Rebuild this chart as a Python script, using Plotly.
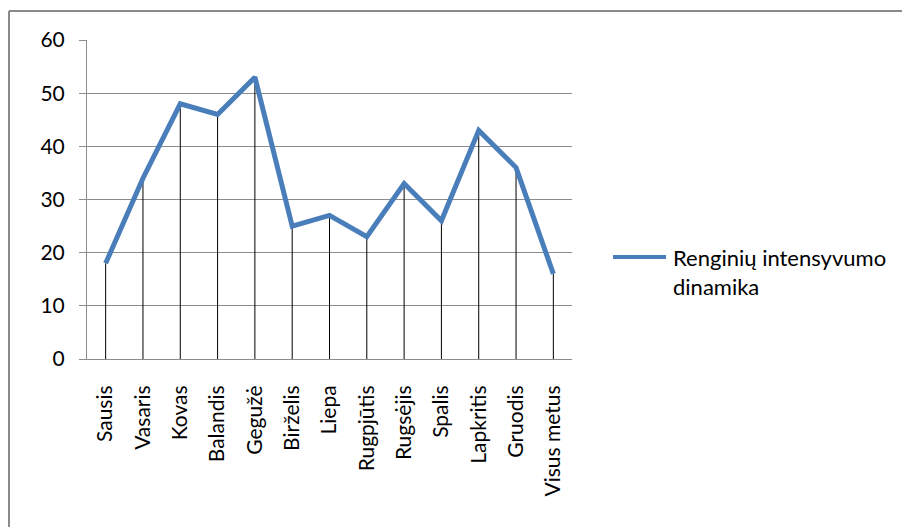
import plotly.graph_objects as go

# Monthly event intensity
months = ["Sausis", "Vasaris", "Kovas", "Balandis", "Gegužė", "Birželis", "Liepa",
          "Rugpjūtis", "Rugsėjis", "Spalis", "Lapkritis", "Gruodis", "Visus metus"]
values = [18, 34, 48, 46, 53, 25, 27, 23, 33, 26, 43, 36, 16]
y_ticks = [0, 10, 20, 30, 40, 50, 60]
series_name = "Renginių intensyvumo<br>dinamika"

W, H = 902, 527
ML, MR, MT, MB = 87, 330, 40, 168
PW, PH = W - ML - MR, H - MT - MB

def px_x(px):
    return (px - ML) / PW

def px_y(py):
    return (H - MB - py) / PH

FONT = "Lato"
FS = 21
GRID = "#8c8c8c"
BLUE = "#4A7EBB"

# vertical drop lines from each point down to zero
drop_x, drop_y = [], []
for m, v in zip(months, values):
    drop_x += [m, m, None]
    drop_y += [0, v, None]

fig = go.Figure()
fig.add_trace(go.Scatter(x=drop_x, y=drop_y, mode="lines",
                         line=dict(color="black", width=1),
                         showlegend=False, hoverinfo="skip"))
fig.add_trace(go.Scatter(x=months, y=values, mode="lines", name=series_name,
                         line=dict(color=BLUE, width=5), showlegend=False))

fig.update_layout(
    width=W, height=H,
    margin=dict(l=ML, r=MR, t=MT, b=MB, pad=0),
    paper_bgcolor="white", plot_bgcolor="white",
    font=dict(family=FONT, size=FS, color="black"),
    xaxis=dict(type="category", categoryorder="array", categoryarray=months,
               range=[-0.5, len(months) - 0.5],
               showgrid=False, showline=True, linecolor=GRID, linewidth=1,
               ticks="", tickangle=-90, ticklabelstandoff=17,
               tickfont=dict(family=FONT, size=FS)),
    yaxis=dict(range=[0, 60], tickvals=y_ticks, showgrid=True, gridcolor=GRID,
               gridwidth=1, showline=True, linecolor=GRID, linewidth=1,
               ticks="outside", ticklen=7, tickcolor=GRID, ticklabelstandoff=10,
               zeroline=False, tickfont=dict(family=FONT, size=FS)),
    shapes=[
        # outer chart frame (top and left edges)
        dict(type="line", xref="paper", yref="paper",
             x0=px_x(9), x1=px_x(905), y0=px_y(11), y1=px_y(11),
             line=dict(color="#8a8a8a", width=2)),
        dict(type="line", xref="paper", yref="paper",
             x0=px_x(9), x1=px_x(9), y0=px_y(11), y1=px_y(530),
             line=dict(color="#8a8a8a", width=2)),
        # legend key
        dict(type="line", xref="paper", yref="paper",
             x0=px_x(613), x1=px_x(666), y0=px_y(257), y1=px_y(257),
             line=dict(color=BLUE, width=4)),
    ],
    annotations=[
        dict(text=series_name, xref="paper", yref="paper",
             x=px_x(671), y=px_y(242), xanchor="left", yanchor="top",
             align="left", showarrow=False,
             font=dict(family=FONT, size=22, color="black")),
    ],
)

fig.write_html("out.html")
